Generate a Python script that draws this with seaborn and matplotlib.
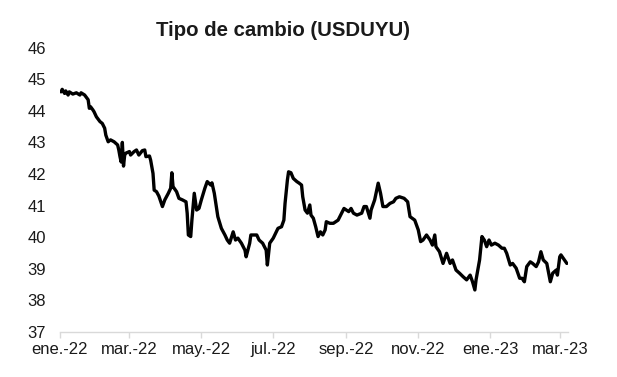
import matplotlib
matplotlib.use("Agg")
import matplotlib.pyplot as plt
import seaborn as sns
import pandas as pd

dates = [
    "2022-01-02", "2022-01-03", "2022-01-05", "2022-01-06", "2022-01-08", "2022-01-09", "2022-01-12",
    "2022-01-15", "2022-01-18", "2022-01-19", "2022-01-22", "2022-01-23", "2022-01-25", "2022-01-26",
    "2022-01-27", "2022-01-29", "2022-01-30", "2022-02-01", "2022-02-04", "2022-02-06", "2022-02-08",
    "2022-02-09", "2022-02-11", "2022-02-13", "2022-02-16", "2022-02-19", "2022-02-20", "2022-02-21",
    "2022-02-22", "2022-02-23", "2022-02-24", "2022-02-25", "2022-02-26", "2022-03-01", "2022-03-02",
    "2022-03-05", "2022-03-07", "2022-03-09", "2022-03-12", "2022-03-14", "2022-03-15", "2022-03-18",
    "2022-03-19", "2022-03-21", "2022-03-22", "2022-03-24", "2022-03-26", "2022-03-29", "2022-03-31",
    "2022-04-03", "2022-04-05", "2022-04-06", "2022-04-07", "2022-04-10", "2022-04-12", "2022-04-15",
    "2022-04-18", "2022-04-19", "2022-04-20", "2022-04-22", "2022-04-23", "2022-04-25", "2022-04-27",
    "2022-04-29", "2022-05-01", "2022-05-04", "2022-05-06", "2022-05-09", "2022-05-10", "2022-05-12",
    "2022-05-15", "2022-05-18", "2022-05-21", "2022-05-23", "2022-05-25", "2022-05-28", "2022-05-30",
    "2022-06-01", "2022-06-04", "2022-06-07", "2022-06-08", "2022-06-11", "2022-06-12", "2022-06-17",
    "2022-06-19", "2022-06-22", "2022-06-25", "2022-06-26", "2022-06-28", "2022-07-01", "2022-07-05",
    "2022-07-08", "2022-07-10", "2022-07-11", "2022-07-13", "2022-07-14", "2022-07-16", "2022-07-18",
    "2022-07-21", "2022-07-23", "2022-07-25", "2022-07-26", "2022-07-28", "2022-07-30", "2022-08-01",
    "2022-08-02", "2022-08-04", "2022-08-06", "2022-08-08", "2022-08-10", "2022-08-12", "2022-08-14",
    "2022-08-15", "2022-08-18", "2022-08-21", "2022-08-25", "2022-08-28", "2022-08-30", "2022-09-01",
    "2022-09-03", "2022-09-05", "2022-09-07", "2022-09-10", "2022-09-14", "2022-09-16", "2022-09-18",
    "2022-09-21", "2022-09-22", "2022-09-25", "2022-09-28", "2022-09-30", "2022-10-02", "2022-10-05",
    "2022-10-08", "2022-10-11", "2022-10-13", "2022-10-16", "2022-10-20", "2022-10-23", "2022-10-25",
    "2022-10-29", "2022-11-01", "2022-11-03", "2022-11-05", "2022-11-08", "2022-11-11", "2022-11-13",
    "2022-11-15", "2022-11-16", "2022-11-19", "2022-11-22", "2022-11-25", "2022-11-28", "2022-11-30",
    "2022-12-03", "2022-12-06", "2022-12-09", "2022-12-12", "2022-12-15", "2022-12-17", "2022-12-19",
    "2022-12-20", "2022-12-23", "2022-12-25", "2022-12-27", "2022-12-29", "2022-12-31", "2023-01-02",
    "2023-01-05", "2023-01-08", "2023-01-11", "2023-01-13", "2023-01-15", "2023-01-18", "2023-01-20",
    "2023-01-23", "2023-01-26", "2023-01-28", "2023-01-30", "2023-02-01", "2023-02-04", "2023-02-06",
    "2023-02-09", "2023-02-11", "2023-02-13", "2023-02-15", "2023-02-18", "2023-02-21", "2023-02-23",
    "2023-02-26", "2023-02-27", "2023-03-01", "2023-03-02", "2023-03-05", "2023-03-07",
]

usduyu = [
    44.60, 44.68, 44.55, 44.63, 44.50, 44.60, 44.53,
    44.57, 44.50, 44.57, 44.50, 44.45, 44.35, 44.08,
    44.13, 44.03, 43.97, 43.81, 43.66, 43.60, 43.45,
    43.23, 43.02, 43.08, 43.02, 42.92, 42.76, 42.55,
    42.38, 43.00, 42.25, 42.60, 42.66, 42.71, 42.60,
    42.71, 42.76, 42.60, 42.74, 42.76, 42.55, 42.57,
    42.44, 42.02, 41.49, 41.44, 41.30, 40.97, 41.18,
    41.39, 41.55, 42.04, 41.60, 41.44, 41.23, 41.18,
    41.12, 40.76, 40.07, 40.02, 40.54, 41.39, 40.86,
    40.91, 41.18, 41.55, 41.76, 41.65, 41.72, 41.39,
    40.65, 40.28, 40.07, 39.91, 39.81, 40.17, 39.91,
    39.97, 39.81, 39.59, 39.38, 39.81, 40.07, 40.07,
    39.91, 39.81, 39.59, 39.12, 39.81, 39.97, 40.28,
    40.33, 40.54, 41.07, 41.81, 42.07, 42.04, 41.86,
    41.76, 41.71, 41.65, 41.28, 40.86, 40.76, 41.02,
    40.70, 40.60, 40.33, 40.02, 40.17, 40.07, 40.23,
    40.49, 40.44, 40.44, 40.54, 40.76, 40.91, 40.86,
    40.81, 40.91, 40.76, 40.70, 40.76, 40.97, 40.97,
    40.60, 40.86, 41.18, 41.71, 41.39, 40.97, 40.97,
    41.07, 41.12, 41.23, 41.28, 41.23, 41.12, 40.65,
    40.54, 40.23, 39.86, 39.91, 40.07, 39.91, 39.75,
    40.07, 39.70, 39.54, 39.17, 39.49, 39.17, 39.28,
    38.96, 38.86, 38.75, 38.65, 38.80, 38.59, 38.33,
    38.65, 39.28, 40.02, 39.91, 39.70, 39.91, 39.75,
    39.81, 39.75, 39.65, 39.65, 39.49, 39.12, 39.17,
    39.02, 38.70, 38.70, 38.59, 39.07, 39.22, 39.17,
    39.07, 39.22, 39.54, 39.28, 39.17, 38.59, 38.86,
    38.96, 38.80, 39.38, 39.44, 39.28, 39.17,
]

tick_dates = ["2022-01-01", "2022-03-01", "2022-05-01", "2022-07-01",
              "2022-09-01", "2022-11-01", "2023-01-01", "2023-03-01"]
tick_labels = ["ene.-22", "mar.-22", "may.-22", "jul.-22",
               "sep.-22", "nov.-22", "ene.-23", "mar.-23"]
y_ticks = [37, 38, 39, 40, 41, 42, 43, 44, 45, 46]
title = "Tipo de cambio (USDUYU)"

sns.set_style("white")
plt.rcParams["font.family"] = ["Liberation Sans", "DejaVu Sans"]

df = pd.DataFrame({"fecha": pd.to_datetime(dates), "valor": usduyu})

fig = plt.figure(figsize=(6.17, 3.77), dpi=100)
ax = fig.add_axes([0.097, 0.1194, 0.8236, 0.7543])
sns.lineplot(data=df, x="fecha", y="valor", ax=ax, color="black", linewidth=2.4)

ax.set_xlim(pd.Timestamp("2022-01-01"), pd.Timestamp("2023-03-08"))
ax.set_ylim(37, 46)
ax.set_xticks(pd.to_datetime(tick_dates))
ax.set_xticklabels(tick_labels, fontsize=12, color="#1a1a1a")
ax.set_yticks(y_ticks)
ax.set_yticklabels([str(v) for v in y_ticks], fontsize=12, color="#1a1a1a")
ax.set_xlabel("")
ax.set_ylabel("")

for side in ["left", "right", "top"]:
    ax.spines[side].set_visible(False)
ax.spines["bottom"].set_color("#d9d9d9")
ax.spines["bottom"].set_linewidth(1.0)
ax.tick_params(axis="x", bottom=True, length=4, width=1.0, color="#d9d9d9", pad=3)
ax.tick_params(axis="y", left=False, length=0, pad=10)

fig.text(0.458, 0.9045, title, ha="center", va="baseline",
         fontsize=14.7, fontweight="bold", color="#1a1a1a")

fig.savefig("out.png", dpi=100)
